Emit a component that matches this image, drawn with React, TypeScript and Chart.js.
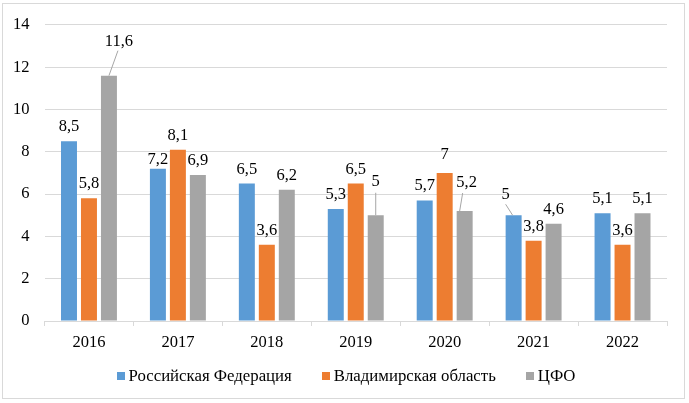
import React, { useEffect, useRef } from "react";
import { Chart, registerables } from "chart.js";

Chart.register(...registerables);

const categories = ["2016", "2017", "2018", "2019", "2020", "2021", "2022"];
const seriesNames = ["Российская Федерация", "Владимирская область", "ЦФО"];
const rfValues = [8.5, 7.2, 6.5, 5.3, 5.7, 5.0, 5.1];
const vladValues = [5.8, 8.1, 3.6, 6.5, 7.0, 3.8, 3.6];
const cfoValues = [11.6, 6.9, 6.2, 5.0, 5.2, 4.6, 5.1];
const yTicks = [0, 2, 4, 6, 8, 10, 12, 14];

const COLORS = ["#5B9BD5", "#ED7D31", "#A5A5A5"];
const FONT = '"Liberation Serif", "Times New Roman", serif';

// label placement tweaks: key "dataset-index"
const labelTweaks: Record<string, { dx: number; dy: number; line?: { sx: number; ex: number; ey: number } }> = {
  "2-0": { dx: 10, dy: -19.5, line: { sx: 0, ex: -1, ey: 4.5 } },
  "2-3": { dx: 0, dy: -19.5, line: { sx: 0, ex: 0, ey: 7 } },
  "2-4": { dx: 2, dy: -14.5, line: { sx: -5, ex: -4, ey: 6.5 } },
  "0-5": { dx: -8, dy: -6.5, line: { sx: -1, ex: 0, ey: 5.5 } },
  "0-1": { dx: 0, dy: 5.5 },
  "1-4": { dx: 0, dy: -3.5 },
};

const dataLabelPlugin = {
  id: "dataLabels",
  afterDatasetsDraw(chart: any) {
    const ctx = chart.ctx;
    ctx.save();
    ctx.font = `16.5px ${FONT}`;
    ctx.textAlign = "center";
    ctx.textBaseline = "alphabetic";
    chart.data.datasets.forEach((ds: any, di: number) => {
      const meta = chart.getDatasetMeta(di);
      meta.data.forEach((bar: any, i: number) => {
        const v = ds.data[i];
        const t = labelTweaks[`${di}-${i}`] || { dx: 0, dy: 0 };
        const lx = bar.x + t.dx;
        const ly = bar.y - 10 + t.dy;
        if (t.line) {
          ctx.strokeStyle = "#A6A6A6";
          ctx.lineWidth = 1;
          ctx.beginPath();
          ctx.moveTo(bar.x + t.line.sx, bar.y);
          ctx.lineTo(lx + t.line.ex, ly + t.line.ey);
          ctx.stroke();
        }
        ctx.fillStyle = "#000";
        ctx.fillText(String(v).replace(".", ","), lx, ly);
      });
    });
    ctx.restore();
  },
};

const legendPlugin = {
  id: "customLegend",
  afterDraw(chart: any) {
    const ctx = chart.ctx;
    ctx.save();
    ctx.font = `16.8px ${FONT}`;
    ctx.textBaseline = "middle";
    ctx.textAlign = "left";
    const box = 8;
    const gap = 4;
    const spacing = 30;
    const items = chart.data.datasets.map((ds: any) => ({
      label: ds.label,
      color: ds.backgroundColor,
      w: box + gap + ctx.measureText(ds.label).width,
    }));
    const total = items.reduce((s: number, it: any) => s + it.w, 0) + spacing * (items.length - 1);
    let x = 346 - total / 2;
    const cy = 376;
    items.forEach((it: any) => {
      ctx.fillStyle = it.color;
      ctx.fillRect(Math.round(x), cy - box / 2, box, box);
      ctx.fillStyle = "#000";
      ctx.fillText(it.label, x + box + gap, cy + 1);
      x += it.w + spacing;
    });
    ctx.restore();
  },
};

export default function App() {
  const ref = useRef<HTMLCanvasElement | null>(null);
  useEffect(() => {
    if (!ref.current) return;
    const values = [rfValues, vladValues, cfoValues];
    const chart = new Chart(ref.current, {
      type: "bar",
      data: {
        labels: categories,
        datasets: seriesNames.map((name, i) => ({
          label: name,
          data: values[i],
          backgroundColor: COLORS[i],
          categoryPercentage: 0.674,
          barPercentage: 0.8,
        })),
      },
      options: {
        responsive: false,
        animation: false,
        layout: { padding: { left: 0, right: 22, top: 21, bottom: 44 } },
        plugins: { legend: { display: false }, tooltip: { enabled: false } },
        scales: {
          x: {
            grid: {
              offset: true,
              drawOnChartArea: false,
              drawTicks: true,
              tickLength: 5,
              color: "#D9D9D9",
            },
            border: { display: true, color: "#D9D9D9" },
            ticks: { color: "#000", font: { family: FONT, size: 16.5 }, padding: 7 },
            afterFit: (s: any) => { s.height = 38; },
          },
          y: {
            min: 0,
            max: 14,
            afterBuildTicks: (s: any) => { s.ticks = yTicks.map((v) => ({ value: v })); },
            grid: { color: "#D9D9D9", drawTicks: false },
            border: { display: false },
            ticks: { color: "#000", font: { family: FONT, size: 16.5 }, padding: 15, crossAlign: "near" },
            afterFit: (s: any) => { s.width = 44.5; },
          },
        },
      },
      plugins: [dataLabelPlugin, legendPlugin],
    });
    return () => chart.destroy();
  }, []);
  return (
    <div style={{ position: "fixed", left: 0, top: 0, width: 689, height: 403, background: "#fff" }}>
      <canvas ref={ref} width={689} height={403} style={{ display: "block" }} />
      <div
        style={{
          position: "absolute",
          left: 2,
          top: 3,
          width: 681,
          height: 394,
          border: "1px solid #D9D9D9",
          pointerEvents: "none",
        }}
      />
    </div>
  );
}
